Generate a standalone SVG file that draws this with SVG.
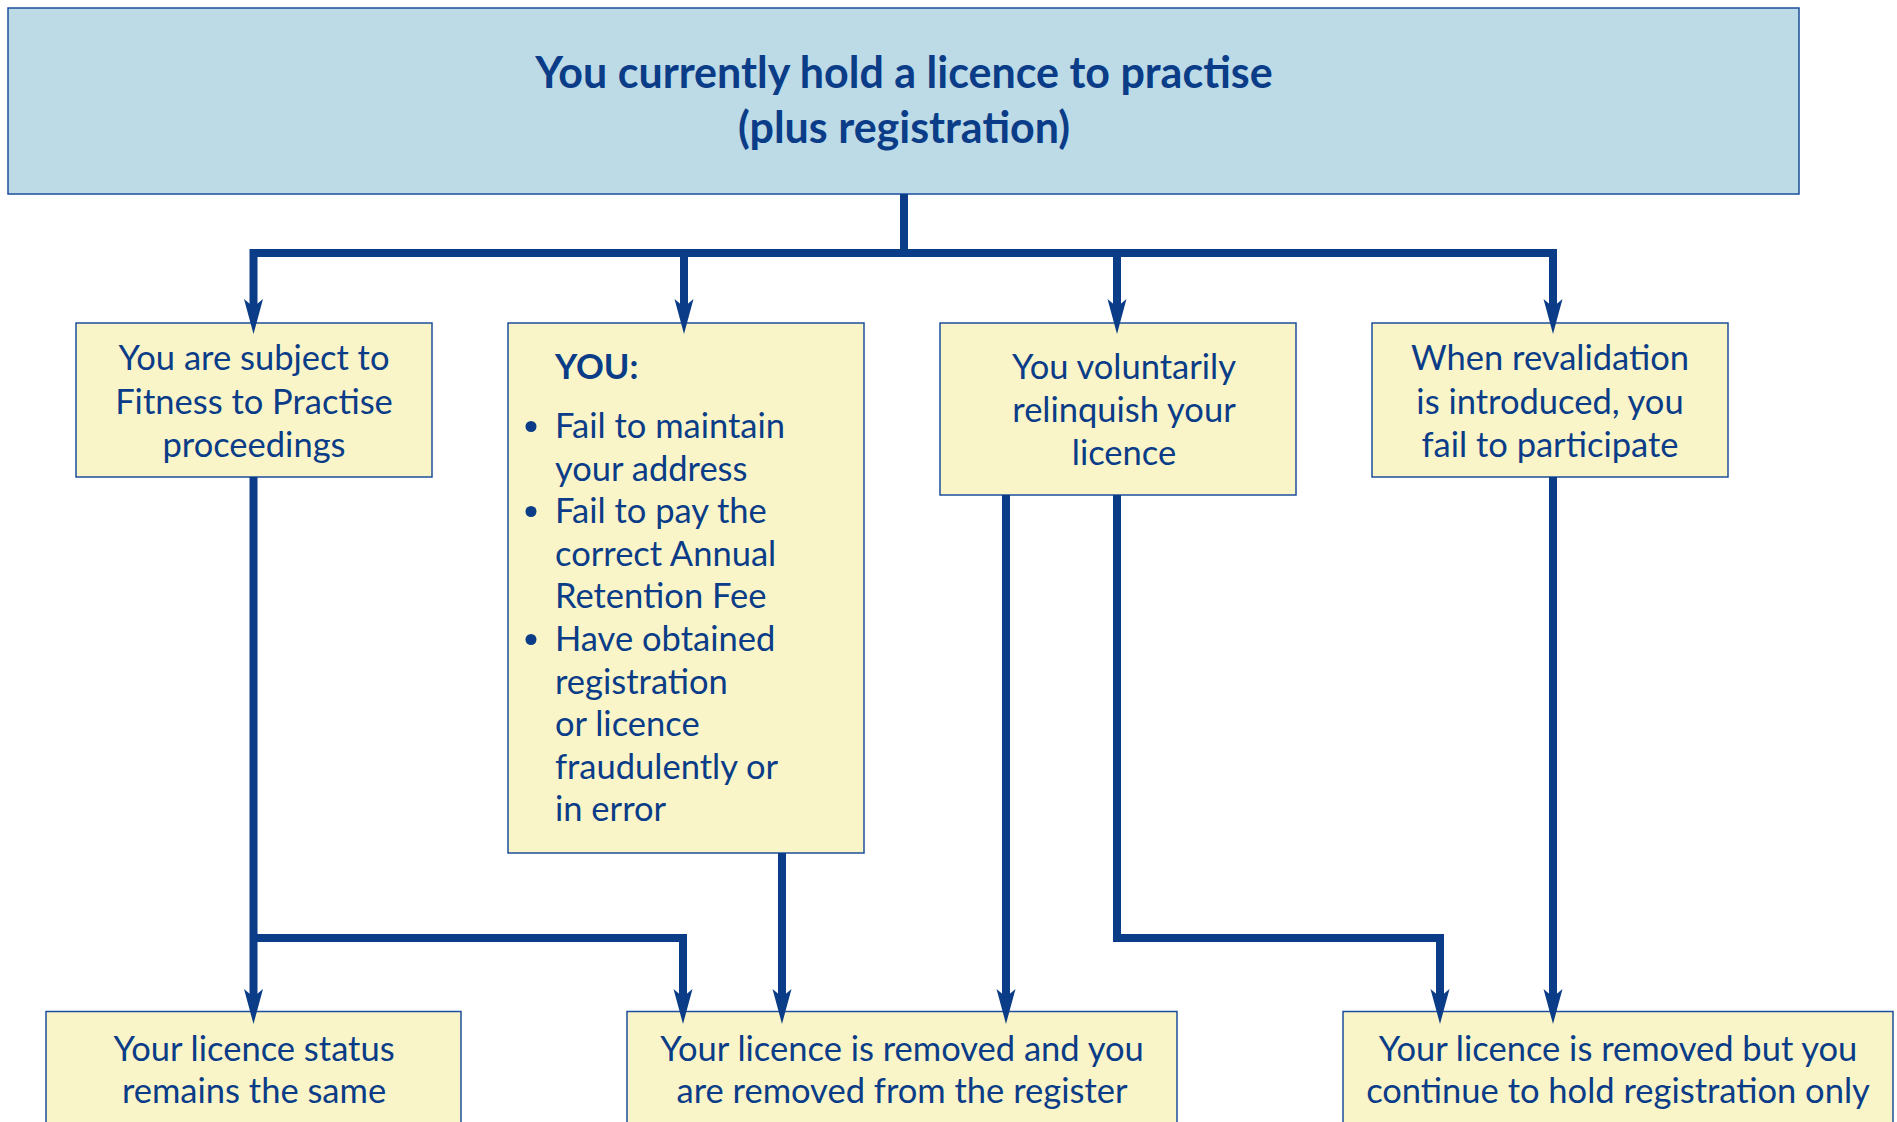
<svg xmlns="http://www.w3.org/2000/svg" width="1897" height="1122" viewBox="0 0 1897 1122">
  <style>
    .box { fill: #f9f5c8; stroke: #1d4f9c; stroke-width: 1.5; }
    .top { fill: #bcdbe7; stroke: #1d4f9c; stroke-width: 1.5; }
    .t { font-family: Lato, "Liberation Sans", sans-serif; font-size: 34.5px; fill: #0a3c87; }
    .c { text-anchor: middle; }
    .title { font-family: Lato, "Liberation Sans", sans-serif; font-size: 43px; font-weight: bold; fill: #0a3c87; text-anchor: middle; }
    .b { font-weight: bold; }
    .conn path { fill: none; stroke: #0a3c87; stroke-width: 8; stroke-linejoin: miter; stroke-linecap: butt; }
    .conn path.arr { marker-end: url(#ah); }
    .dot { fill: #0a3c87; }
  </style>
  <defs>
    <marker id="ah" markerUnits="userSpaceOnUse" viewBox="0 -10 36 20" markerWidth="36" markerHeight="20" refX="10" refY="0" orient="auto">
      <path d="M0,-9.5 L35,0 L0,9.5 L8,0 Z" fill="#0a3c87"/>
    </marker>
  </defs>
  <rect width="1897" height="1122" fill="#ffffff"/>

  <g id="n-top">
    <rect class="top" x="8" y="8" width="1791" height="186"/>
    <text class="title" x="904" y="88">You currently hold a licence to practise</text>
    <text class="title" x="904" y="143">(plus registration)</text>
  </g>

  <g id="n-ftp">
    <rect class="box" x="76" y="323" width="356" height="154"/>
    <text class="t c" x="254" y="370">You are subject to</text>
    <text class="t c" x="254" y="413.5">Fitness to Practise</text>
    <text class="t c" x="254" y="457">proceedings</text>
  </g>

  <g id="n-you">
    <rect class="box" x="508" y="323" width="356" height="530"/>
    <text class="t b" x="555" y="379">YOU:</text>
    <circle class="dot" cx="531" cy="426.5" r="5.5"/>
    <circle class="dot" cx="531" cy="511.5" r="5.5"/>
    <circle class="dot" cx="531" cy="639.5" r="5.5"/>
    <text class="t" x="555" y="438">Fail to maintain</text>
    <text class="t" x="555" y="480.6">your address</text>
    <text class="t" x="555" y="523.2">Fail to pay the</text>
    <text class="t" x="555" y="565.8">correct Annual</text>
    <text class="t" x="555" y="608.4">Retention Fee</text>
    <text class="t" x="555" y="651">Have obtained</text>
    <text class="t" x="555" y="693.6">registration</text>
    <text class="t" x="555" y="736.2">or licence</text>
    <text class="t" x="555" y="778.8">fraudulently or</text>
    <text class="t" x="555" y="821.4">in error</text>
  </g>

  <g id="n-vol">
    <rect class="box" x="940" y="323" width="356" height="172"/>
    <text class="t c" x="1124" y="379">You voluntarily</text>
    <text class="t c" x="1124" y="421.5">relinquish your</text>
    <text class="t c" x="1124" y="464.5">licence</text>
  </g>

  <g id="n-reval">
    <rect class="box" x="1372" y="323" width="356" height="154"/>
    <text class="t c" x="1550" y="370">When revalidation</text>
    <text class="t c" x="1550" y="413.5">is introduced, you</text>
    <text class="t c" x="1550" y="457">fail to participate</text>
  </g>

  <g id="n-same">
    <rect class="box" x="46" y="1011.5" width="415" height="130"/>
    <text class="t c" x="254" y="1061">Your licence status</text>
    <text class="t c" x="254" y="1103">remains the same</text>
  </g>

  <g id="n-removed">
    <rect class="box" x="627" y="1011.5" width="550" height="130"/>
    <text class="t c" x="902" y="1061">Your licence is removed and you</text>
    <text class="t c" x="902" y="1103">are removed from the register</text>
  </g>

  <g id="n-regonly">
    <rect class="box" x="1343" y="1011.5" width="550" height="130"/>
    <text class="t c" x="1618" y="1061">Your licence is removed but you</text>
    <text class="t c" x="1618" y="1103">continue to hold registration only</text>
  </g>

  <g id="connectors" class="conn">
    <path class="arr" d="M904,194 V253 H253.5 V309"/>
    <path class="arr" d="M904,253 H684 V309"/>
    <path class="arr" d="M904,253 H1117 V309"/>
    <path class="arr" d="M904,253 H1553 V309"/>
    <path class="arr" d="M253.5,477 V999"/>
    <path class="arr" d="M253.5,938 H683 V999"/>
    <path class="arr" d="M782,853 V999"/>
    <path class="arr" d="M1006,495 V999"/>
    <path class="arr" d="M1117,495 V938 H1440 V999"/>
    <path class="arr" d="M1553,477 V999"/>
  </g>
</svg>
